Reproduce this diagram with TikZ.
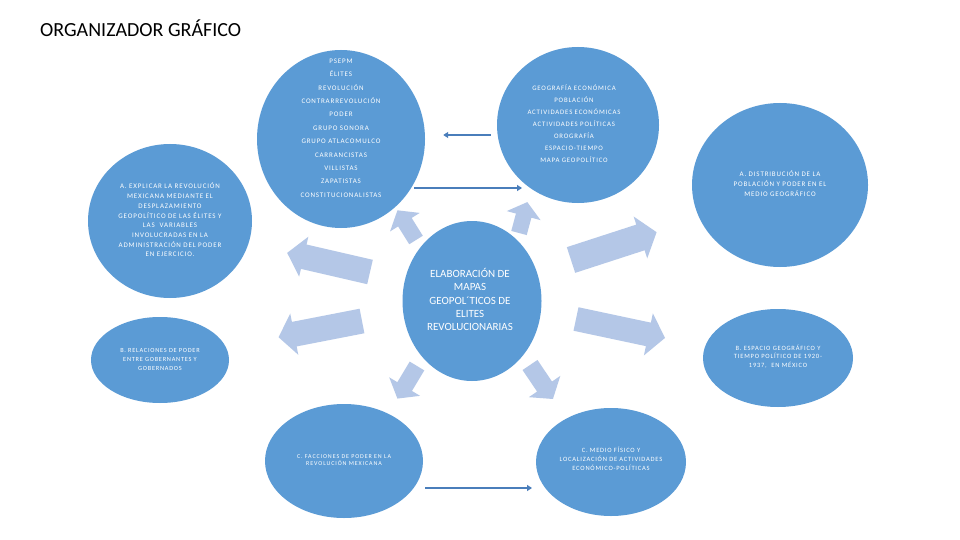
\documentclass[tikz,border=0pt]{standalone}
\usepackage{fontspec}
\setmainfont{Carlito}
\newfontfamily\spc[LetterSpace=12]{Carlito}
\newfontfamily\spcw[LetterSpace=15]{Carlito}
\usetikzlibrary{shapes.geometric,arrows.meta}
\definecolor{blobc}{HTML}{5B9BD5}
\definecolor{blkc}{HTML}{B4C7E7}
\definecolor{connc}{HTML}{4A7EBB}
\newcommand{\blockarr}[7]{\fill[blkc, shift={(#1,#2)}, rotate=#3] (0,-#5/2) -- ({#4-#7},-#5/2) -- ({#4-#7},-#6/2) -- (#4,0) -- ({#4-#7},#6/2) -- ({#4-#7},#5/2) -- (0,#5/2) -- cycle;}
\tikzset{
  blob/.style={ellipse, fill=blobc, draw=none, inner sep=0pt},
  txt/.style={text=white, align=center, inner sep=0pt},
  conn/.style={draw=connc, line width=1.8pt, -{Triangle[length=5pt,width=6pt]}},
}
\begin{document}
\begin{tikzpicture}[x=1pt,y=-1pt]
\fill[white] (0,0) rectangle (960,540);
\useasboundingbox (0,0) rectangle (960,540);
% title
\node[anchor=base west, inner sep=0pt, font=\fontsize{20}{24}\selectfont] (title) at (40,36.5) {ORGANIZADOR GRÁFICO};
% ellipses
\node[blob, minimum width=168pt, minimum height=178pt] (tc) at (341,139) {};
\node[blob, minimum width=162pt, minimum height=156pt] (tr) at (578,125) {};
\node[blob, minimum width=176pt, minimum height=164pt] (ra) at (780,185) {};
\node[blob, minimum width=164pt, minimum height=154pt] (la) at (170,221) {};
\node[blob, minimum width=139pt, minimum height=160pt] (ce) at (472,301) {};
\node[blob, minimum width=138pt, minimum height=86pt] (lb) at (160,360) {};
\node[blob, minimum width=150pt, minimum height=98pt] (rb) at (778,358) {};
\node[blob, minimum width=158pt, minimum height=114pt] (lc) at (344,461) {};
\node[blob, minimum width=150pt, minimum height=108pt] (rc) at (611,462) {};
% block arrows
\blockarr{370}{272}{167}{85}{25}{41}{17}
\blockarr{362}{321}{191}{85}{25}{42}{16}
\blockarr{571}{260}{18}{90}{27}{44}{17}
\blockarr{576}{319}{-12}{91}{24}{43}{17}
\blockarr{417}{366}{-121}{38}{17}{36}{14}
\blockarr{530}{365}{-56}{41}{18}{38}{15}
\blockarr{416}{240}{122}{35}{16}{35}{14}
\blockarr{519}{233}{75}{32}{16}{35}{14}
% texts
\node[txt, font=\spc\fontsize{7}{13.4}\selectfont] (tct) at ([yshift=11pt]tc.center) {PSEPM\\ÉLITES\\REVOLUCIÓN\\CONTRARREVOLUCIÓN\\PODER\\GRUPO SONORA\\GRUPO ATLACOMULCO\\CARRANCISTAS\\VILLISTAS\\ZAPATISTAS\\CONSTITUCIONALISTAS};
\node[txt, font=\spc\fontsize{6.8}{12}\selectfont] (trt) at ([xshift=-4pt,yshift=1pt]tr.center) {GEOGRAFÍA ECONÓMICA\\POBLACIÓN\\ACTIVIDADES ECONÓMICAS\\ACTIVIDADES POLÍTICAS\\OROGRAFÍA\\ESPACIO-TIEMPO\\MAPA GEOPOLÍTICO};
\node[txt, font=\spc\fontsize{7}{9.7}\selectfont] (lat) at ([yshift=1pt]la.center) {A. EXPLICAR LA REVOLUCIÓN\\MEXICANA MEDIANTE EL\\DESPLAZAMIENTO\\GEOPOLÍTICO DE LAS ÉLITES Y\\LAS \ VARIABLES\\INVOLUCRADAS EN LA\\ADMINISTRACIÓN DEL PODER\\EN EJERCICIO.};
\node[txt, font=\spc\fontsize{7}{10}\selectfont] (rat) at ([yshift=1pt]ra.center) {A. DISTRIBUCIÓN DE LA\\POBLACIÓN Y PODER EN EL\\MEDIO GEOGRÁFICO};
\node[txt, font=\spc\fontsize{6.3}{9}\selectfont] (lbt) at ([yshift=1pt]lb.center) {B. RELACIONES DE PODER\\ENTRE GOBERNANTES Y\\GOBERNADOS};
\node[txt, font=\spc\fontsize{6.5}{8.5}\selectfont] (rbt) at ([yshift=1.5pt]rb.center) {B. ESPACIO GEOGRÁFICO Y\\TIEMPO POLÍTICO DE 1920-\\1937, \ EN MÉXICO};
\node[txt, font=\spcw\fontsize{6}{7.5}\selectfont] (lct) at ([yshift=1pt]lc.center) {C. FACCIONES DE PODER EN LA\\REVOLUCIÓN MEXICANA};
\node[txt, font=\spc\fontsize{6.5}{9}\selectfont] (rct) at ([yshift=3pt]rc.center) {C. MEDIO FÍSICO Y\\LOCALIZACIÓN DE ACTIVIDADES\\ECONÓMICO-POLÍTICAS};
\node[txt, font=\fontsize{11}{13.3}\selectfont] (cet) at ([xshift=-2pt,yshift=1.5pt]ce.center) {ELABORACIÓN DE\\MAPAS\\GEOPOL´TICOS DE\\ELITES\\REVOLUCIONARIAS};
% thin connectors
\draw[conn] ([xshift=-6pt,yshift=-10pt]tr.west) -- ([xshift=18pt,yshift=4pt]tc.east);
\draw[conn] ([xshift=73pt,yshift=-49pt]tc.center) -- ([xshift=-56pt,yshift=-63pt]tr.center);
\draw[conn] ([xshift=81pt,yshift=-27pt]lc.center) -- ([xshift=-79pt,yshift=-26pt]rc.center);
\end{tikzpicture}
\end{document}
